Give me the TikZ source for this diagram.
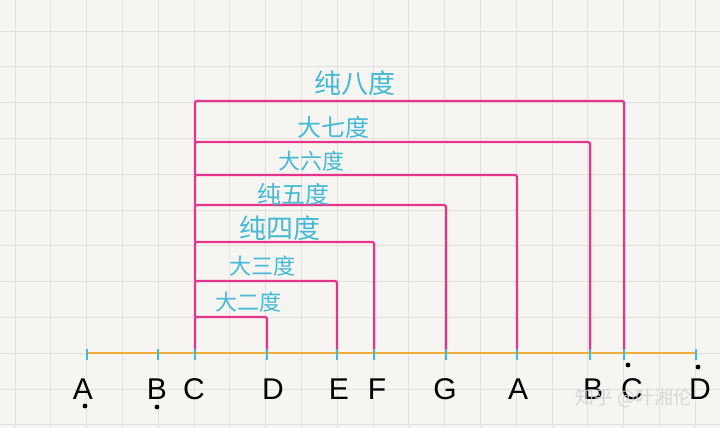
\documentclass[tikz,border=0pt]{standalone}
\usepackage{fontspec}
\setmainfont{Liberation Sans}
\newfontfamily\cjk{Noto Sans CJK SC}
\definecolor{paper}{HTML}{F7F5F2}
\definecolor{gridc}{HTML}{E2E0DE}
\definecolor{mag}{HTML}{E5348C}
\definecolor{axisc}{HTML}{F2AE3A}
\definecolor{cyanc}{HTML}{45B9D6}
\tikzset{
  gridline/.style={draw=gridc, line width=0.9pt},
  bracket/.style={draw=mag, line width=2.2pt, rounded corners=2pt},
  axisline/.style={draw=axisc, line width=2.6pt},
  tickmark/.style={draw=cyanc, line width=2pt},
  interval/.style={text=cyanc, font=\cjk\fontsize{22}{22}\selectfont, inner sep=0pt},
  note/.style={text=black, font=\fontsize{30}{30}\selectfont, inner sep=0pt},
  notedot/.style={fill=black, draw=none},
  watermark/.style={text=gray!35, font=\cjk\fontsize{19}{19}\selectfont, inner sep=0pt, opacity=0.85}
}
\begin{document}
\begin{tikzpicture}[x=1pt,y=-1pt]
\fill[paper] (0,0) rectangle (720,428);
\useasboundingbox (0,0) rectangle (720,428);
\foreach \i in {0,...,20} \draw[gridline] ({15+35.8*\i},0) -- ({15+35.8*\i},428);
\foreach \j in {0,...,11} \draw[gridline] (0,{31+35.8*\j}) -- (720,{31+35.8*\j});

% tick positions on the axis
\coordinate (tA)  at (87,353);
\coordinate (tB)  at (158,353);
\coordinate (tC)  at (195,353);
\coordinate (tD)  at (267,353);
\coordinate (tE)  at (337,353);
\coordinate (tF)  at (374,353);
\coordinate (tG)  at (446,353);
\coordinate (tA2) at (517,353);
\coordinate (tB2) at (590,353);
\coordinate (tC2) at (624,353);
\coordinate (tD2) at (696,353);

% brackets
\draw[bracket] (tC) -- (195,317) -| (tD);
\draw[bracket] (195,317) -- (195,281) -| (tE);
\draw[bracket] (195,281) -- (195,242) -| (tF);
\draw[bracket] (195,242) -- (195,205) -| (tG);
\draw[bracket] (195,205) -- (195,175) -| (tA2);
\draw[bracket] (195,175) -- (195,142) -| (tB2);
\draw[bracket] (195,142) -- (195,101) -| (tC2);

% axis
\draw[axisline] (tA) -- (tD2);
\foreach \t in {tA,tB,tC,tD,tE,tF,tG,tA2,tB2,tC2,tD2}
  \draw[tickmark] ([yshift=-7pt]\t) -- ([yshift=4pt]\t);

% interval labels
\node[interval, font=\cjk\fontsize{27}{27}\selectfont] (l8) at (355,83) {纯八度};
\node[interval, font=\cjk\fontsize{24}{24}\selectfont] (l7) at (333,127) {大七度};
\node[interval] (l6) at (311,161) {大六度};
\node[interval, font=\cjk\fontsize{24}{24}\selectfont] (l5) at (293,194) {纯五度};
\node[interval, font=\cjk\fontsize{27}{27}\selectfont] (l4) at (280,228) {纯四度};
\node[interval] (l3) at (262,266) {大三度};
\node[interval] (l2) at (248,302) {大二度};

% note letters
\node[note] (nA)  at (83,389)  {A};
\node[note] (nB)  at (157,389) {B};
\node[note] (nC)  at (194,389) {C};
\node[note] (nD)  at (273,389) {D};
\node[note] (nE)  at (339,389) {E};
\node[note] (nF)  at (377,389) {F};
\node[note] (nG)  at (445,389) {G};
\node[note] (nA2) at (518,389) {A};
\node[note] (nB2) at (593,389) {B};
\node[note] (nC2) at (632,389) {C};
\node[note] (nD2) at (700,389) {D};
\fill[notedot] (85,406) circle (2.4pt);
\fill[notedot] (157,407) circle (2.4pt);
\fill[notedot] (628,365) circle (2.4pt);
\fill[notedot] (698,367) circle (2.4pt);

% watermark
\node[watermark] (wm) at (634,398) {知乎 @叶湘伦};
\end{tikzpicture}
\end{document}
